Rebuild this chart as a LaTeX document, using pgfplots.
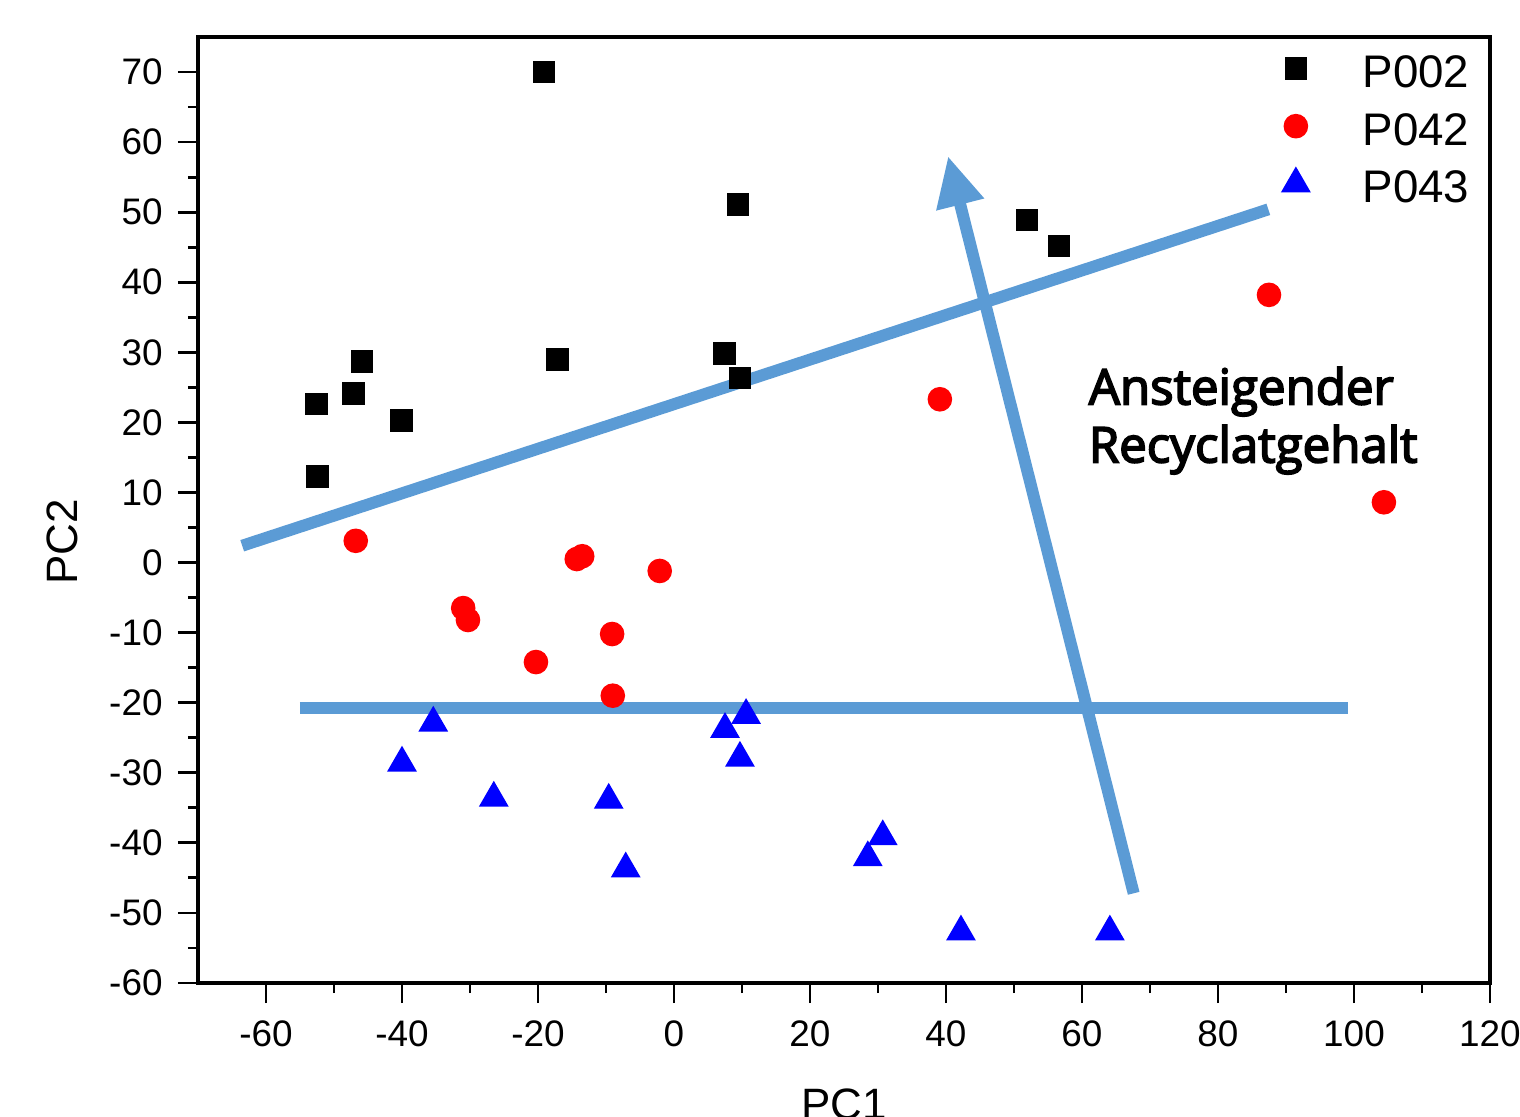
\documentclass[border=0pt]{standalone}
\usepackage{fontspec}
\setmainfont{Liberation Sans}
\newfontfamily\annfont[FakeBold=3.5]{Open Sans}
\usepackage{pgfplots}
\pgfplotsset{compat=1.18}
\usetikzlibrary{arrows.meta}

\definecolor{lineblue}{HTML}{5B9BD5}

\begin{document}
\begin{tikzpicture}
\begin{axis}[
  scale only axis,
  width=12.92cm, height=9.46cm,
  xmin=-70, xmax=120, ymin=-60, ymax=75,
  xtick={-60,-40,...,120}, ytick={-60,-50,...,70},
  minor x tick num=1, minor y tick num=1,
  xtick pos=bottom, ytick pos=left,
  tick align=outside,
  major tick length=0.2cm, minor tick length=0.1cm,
  every tick/.style={black, line width=0.8pt},
  axis line style={line width=0.9pt},
  /pgf/number format/assume math mode=true,
  ticklabel style={font=\fontsize{10.5}{12}\selectfont},
  xticklabel style={yshift=-0.05cm},
  yticklabel style={xshift=-0.03cm},
  every axis x label/.style={at={(axis description cs:0.5,-0.111)}, anchor=north, inner sep=0pt},
  every axis y label/.style={at={(axis description cs:-0.105,0.466)}, anchor=center, rotate=90, inner sep=0pt},
  label style={font=\fontsize{12.5}{14}\selectfont},
  xlabel={PC1}, ylabel={PC2},
  legend style={at={(axis description cs:1,1)}, anchor=north east, xshift=-0.2cm, yshift=-0.12cm,
    draw=none, fill=none, inner sep=0pt, row sep=0.195cm,
    font=\fontsize{13}{15}\selectfont,
    nodes={inner sep=0pt, text height=0.38cm, text depth=0cm}},
  legend cell align=left,
  legend image code/.code={\path (0cm,0cm) (0.76cm,0cm); \draw[#1] plot coordinates {(0.1cm,0cm)};},
  clip=false,
]
\addplot[only marks, mark=square*, mark size=3pt, black] coordinates {
  (-19.1,70) (9.4,51.1) (51.9,48.9) (56.6,45.2) (-45.9,28.7) (-17.1,29)
  (7.4,29.8) (9.7,26.3) (-52.6,22.6) (-47.1,24.1) (-40.1,20.3) (-52.4,12.3)
};
\addplot[only marks, mark=*, mark size=3.3pt, red] coordinates {
  (-46.8,3.1) (-14.3,0.5) (-13.5,0.9) (-2.1,-1.2) (-31,-6.5) (-30.3,-8.2)
  (-9.1,-10.2) (-20.3,-14.2) (-9,-19) (39.1,23.3) (87.5,38.2) (104.4,8.6)
};
\addplot[only marks, mark=triangle*, mark size=4.5pt, blue] coordinates {
  (-35.4,-22.9) (-40,-28.6) (-26.5,-33.6) (-9.6,-33.9) (-7.1,-43.7) (10.6,-21.8)
  (7.5,-23.8) (9.7,-27.9) (30.7,-39.1) (28.5,-42.1) (42.2,-52.7) (64.1,-52.7)
};
\legend{P002, P042, P043}

% guide lines and the direction arrow
\addplot[forget plot, lineblue, line width=3.4pt] coordinates {(-63.5,2.4) (87.4,50.4)};
\addplot[forget plot, lineblue, line width=3.4pt] coordinates {(-55,-20.8) (99.1,-20.8)};
\addplot[forget plot, lineblue, line width=3.4pt,
  -{Triangle[width=0.46cm,length=0.5cm]}] coordinates {(67.6,-47.2) (40.3,58)};

\node[anchor=north west, inner sep=0pt, align=left,
  font=\annfont\fontsize{14}{16.5}\selectfont] at (axis cs:60.9,28)
  {Ansteigender\\Recyclatgehalt};
\end{axis}
\pgfresetboundingbox
\path[use as bounding box] (current axis.south west) ++(-1.98cm,-1.33cm) rectangle ++(15.2cm,11.16cm);
\end{tikzpicture}
\end{document}
